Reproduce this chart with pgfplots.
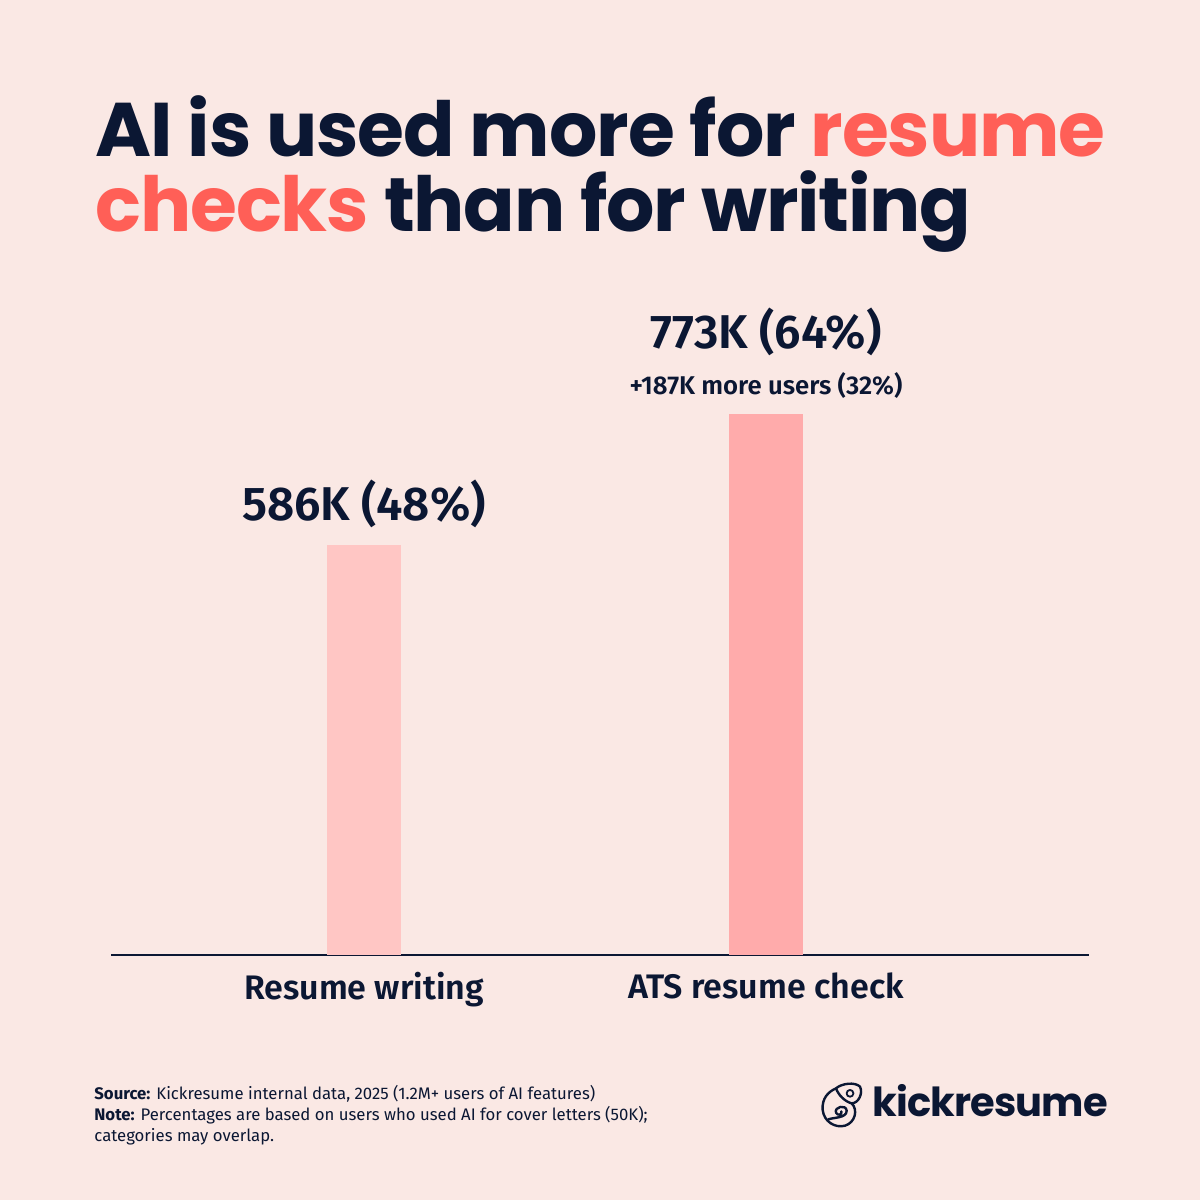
\documentclass[border=0pt]{standalone}
\usepackage{pgfplots}
\pgfplotsset{compat=1.18}
\usepackage{fontspec}
\setmainfont{Fira Sans}
\newfontfamily\titlef{Poppins}[UprightFont=*-Bold,LetterSpace=-1.5]
\newfontfamily\logof{Poppins}[UprightFont=*-Bold,LetterSpace=-2.2]
\newfontfamily\semi{Fira Sans}[UprightFont=* SemiBold]
\newfontfamily\boldf{Fira Sans}[UprightFont=* Bold]
\definecolor{bg}{HTML}{FAE8E4}
\definecolor{navy}{HTML}{0B1733}
\definecolor{coral}{HTML}{FF5F57}
\definecolor{barA}{HTML}{FFC6C4}
\definecolor{barB}{HTML}{FFABAB}
\newcommand{\pxs}[1]{\fontsize{#1}{#1}\selectfont}
\begin{document}
\begin{tikzpicture}[x=1pt,y=1pt]
\path[fill=bg] (0,0) rectangle (600,600);
\begin{axis}[
  at={(55.5pt,122.5pt)},anchor=south west,
  width=489pt,height=300pt,scale only axis,
  xmin=-0.6294,xmax=1.8035,ymin=0,ymax=857,
  axis x line=bottom,axis y line=none,
  axis line style={navy,line width=0.6pt,-},
  xtick={0,1},xticklabels={Resume writing,ATS resume check},
  xtick style={draw=none},
  x tick label style={font=\pxs{17}\semi,text=navy,yshift=-3pt},
  ymajorticks=false,
  clip=false,
]
\addplot[ybar,bar width=37pt,fill=barA,draw=none,bar shift=0pt] coordinates {(0,586)};
\addplot[ybar,bar width=37pt,fill=barB,draw=none,bar shift=0pt] coordinates {(1,773)};
\node[anchor=base,text=navy,font=\pxs{23.7}\semi] at (axis cs:0,586) [yshift=12pt] {586K (48\%)};
\node[anchor=base,text=navy,font=\pxs{23.7}\semi] at (axis cs:1,773) [yshift=32.5pt] {773K (64\%)};
\node[anchor=base,text=navy,font=\pxs{12.85}\semi] at (axis cs:1,773) [yshift=9.6pt] {+187K more users (32\%)};
\end{axis}
\node[anchor=base west,text=navy,font=\pxs{38}\titlef,inner sep=0pt] at (47.5,521.7) {AI is used more for \textcolor{coral}{resume}};
\node[anchor=base west,text=navy,font=\pxs{38}\titlef,inner sep=0pt] at (47.5,484.2) {\textcolor{coral}{checks} than for writing};
\node[anchor=base west,text=navy,font=\pxs{8.37},inner sep=0pt] at (47,50.4) {{\boldf Source:} Kickresume internal data, 2025 (1.2M+ users of AI features)};
\node[anchor=base west,text=navy,font=\pxs{8.37},inner sep=0pt] at (47,39.8) {{\boldf Note:} Percentages are based on users who used AI for cover letters (50K);};
\node[anchor=base west,text=navy,font=\pxs{8.37},inner sep=0pt] at (47,29.4) {categories may overlap.};
\node[anchor=base west,text=navy,font=\pxs{20}\logof,inner sep=0pt] at (436,41.7) {kickresume};
\begin{scope}[shift={(400,70)},x=0.1667pt,y=-0.1667pt,draw=navy,line width=1.2pt,line cap=round,line join=round]
\draw (108,85) .. controls (85,95) and (65,115) .. (68,150) .. controls (72,185) and (105,205) .. (135,197) .. controls (165,188) and (175,150) .. (155,130);
\draw (108,85) .. controls (125,70) and (165,65) .. (180,80) .. controls (190,100) and (175,130) .. (155,130) .. controls (135,125) and (115,105) .. (108,85);
\draw[line width=0.9pt] (150,100) circle (1.7pt);
\draw (85,178) .. controls (100,172) and (140,175) .. (140,152) .. controls (138,132) and (102,140) .. (108,158) .. controls (112,168) and (128,165) .. (124,154);
\end{scope}
\end{tikzpicture}
\end{document}
